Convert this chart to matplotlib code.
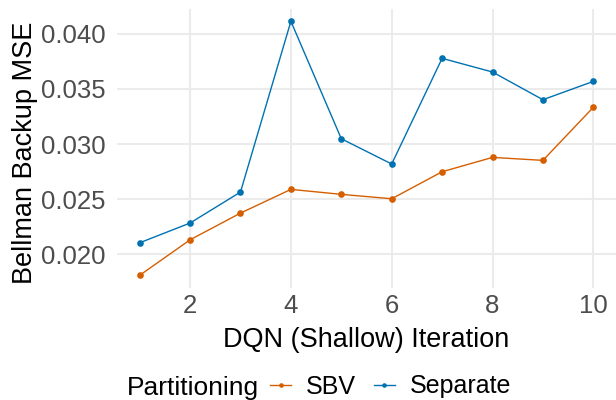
import matplotlib
matplotlib.use("Agg")
import matplotlib.pyplot as plt
from matplotlib.lines import Line2D

iterations = [1, 2, 3, 4, 5, 6, 7, 8, 9, 10]
sbv = [0.01810, 0.02132, 0.02374, 0.02589, 0.02544, 0.02504, 0.02749, 0.02879, 0.02852, 0.03333]
separate = [0.02105, 0.02284, 0.02565, 0.04113, 0.03048, 0.02819, 0.03777, 0.03653, 0.03402, 0.03568]
series_names = ["SBV", "Separate"]
colors = ["#D55E00", "#0072B2"]
xticks = [2, 4, 6, 8, 10]
yticks = [0.020, 0.025, 0.030, 0.035, 0.040]

plt.rcParams['font.family'] = ['Liberation Sans', 'DejaVu Sans']

W, H = 616, 400
fig = plt.figure(figsize=(W/100, H/100), dpi=100)
ax = fig.add_axes([117/W, 1-288/H, (616-117)/W, (288-8.6)/H])

for vals, name, c in zip([sbv, separate], series_names, colors):
    ax.plot(iterations, vals, color=c, lw=1.0, marker='o', ms=4.8, mew=0, label=name)

ax.set_xlim(0.55, 10.45)
ax.set_ylim(0.01695, 0.04228)
ax.set_xticks(xticks)
ax.set_yticks(yticks)
ax.set_yticklabels([f"{v:.3f}" for v in yticks])
ax.grid(True, color='#EBEBEB', lw=1.5)
ax.set_axisbelow(True)
for s in ax.spines.values():
    s.set_visible(False)
ax.tick_params(length=0, labelsize=18.5, labelcolor='#4D4D4D')
ax.tick_params(axis='x', pad=4)
ax.tick_params(axis='y', pad=8.5)

fig.text(366/W, 1-347/H, "DQN (Shallow) Iteration", fontsize=19.5, ha='center', va='baseline')
fig.text(25/W, 1-153/H, "Bellman Backup MSE", fontsize=19.5, ha='center', va='center', rotation=90)

fig.text(127/W, 1-395/H, "Partitioning", fontsize=19, va='baseline', ha='left')
handles = [Line2D([], [], color=c, lw=1.0, marker='o', ms=3.3, mew=0) for c in colors]
fig.legend(handles, series_names, loc='center left', bbox_to_anchor=(270/W, 1-386.5/H),
           ncol=2, frameon=False, fontsize=18, handlelength=0.85, handletextpad=0.6,
           columnspacing=0.7, borderpad=0, borderaxespad=0)

fig.savefig("out.png", dpi=100)
